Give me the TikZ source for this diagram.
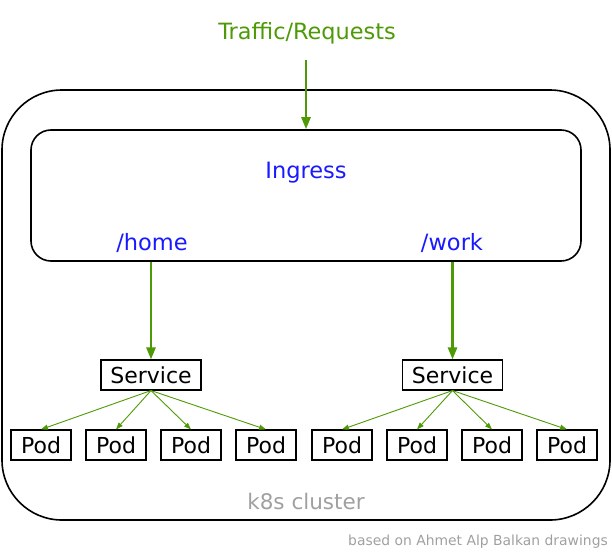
\documentclass[tikz,border=0pt]{standalone}
\usepackage{fontspec}
\setmainfont{DejaVu Sans}
\usetikzlibrary{arrows.meta}
\definecolor{tgreen}{HTML}{4E9A06}
\definecolor{tblue}{HTML}{1A1AFF}
\definecolor{tgray}{HTML}{A0A0A0}
\tikzset{
  bigbox/.style={draw=black, line width=1.6pt, inner sep=0pt},
  smallbox/.style={draw=black, line width=1.1pt, inner sep=0pt, font=\fontsize{22}{24}\selectfont, minimum height=30pt},
  podbox/.style={smallbox, minimum width=60pt},
  svcbox/.style={smallbox, minimum width=100pt},
  thickarrow/.style={draw=tgreen, line width=2.5pt, -{Triangle[length=12pt,width=9pt]}},
  thinarrow/.style={draw=tgreen, line width=0.9pt, -{Triangle[length=7pt,width=5pt]}},
  bluelabel/.style={text=tblue, font=\fontsize{22.5}{25}\selectfont, inner sep=0pt},
}
\begin{document}
\begin{tikzpicture}[x=1pt,y=-1pt]
\useasboundingbox (0,0) rectangle (612,551);
\node[bigbox, rounded corners=60pt, minimum width=608pt, minimum height=430pt] (cluster) at (306,305) {};
\node[bigbox, rounded corners=20pt, minimum width=550pt, minimum height=131pt] (ingress) at (306,195.5) {};
\node[text=tgreen, font=\fontsize{22.4}{25}\selectfont] (traffic) at (307,33) {Traffic/Requests};
\node[bluelabel] (ingtxt) at (306,173) {Ingress};
\node[bluelabel] (home) at (152,243) {/home};
\node[bluelabel] (work) at (452,243) {/work};
\node[text=tgray, font=\fontsize{21.5}{24}\selectfont] (k8s) at (306,501) {k8s cluster};
\node[text=tgray, font=\fontsize{13.9}{16}\selectfont, anchor=east, inner sep=0pt] (credit) at (608,542) {based on Ahmet Alp Balkan drawings};
\coordinate (tstart) at (306,60);
\node[svcbox] (svc1) at (151,375) {Service};
\node[svcbox] (svc2) at (452.5,375) {Service};
\foreach \i/\x in {1/41,2/116,3/191,4/266,5/342,6/417,7/492,8/567}{
  \node[podbox] (pod\i) at (\x,445) {Pod};
}
\draw[thickarrow] (tstart) -- (ingress.north);
\draw[thickarrow] (svc1.north |- ingress.south) -- (svc1.north);
\draw[thickarrow] (svc2.north |- ingress.south) -- (svc2.north);
\foreach \i in {1,2,3,4}{ \draw[thinarrow] (svc1.south) -- (pod\i.north); }
\foreach \i in {5,6,7,8}{ \draw[thinarrow] (svc2.south) -- (pod\i.north); }
\end{tikzpicture}
\end{document}
